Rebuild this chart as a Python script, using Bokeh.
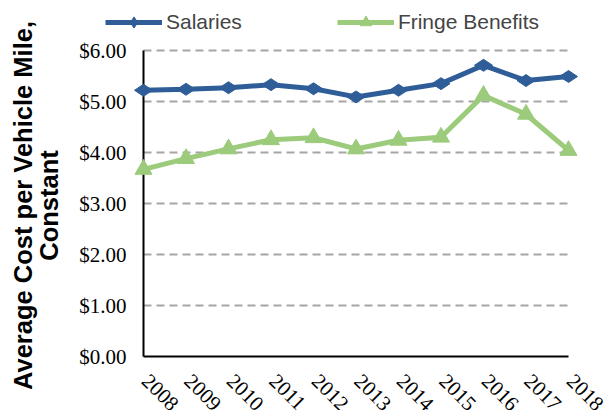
import math
from bokeh.plotting import figure
from bokeh.models import (Range1d, FixedTicker, Legend, LegendItem,
                          LabelSet, ColumnDataSource)
from bokeh.embed import file_html
from bokeh.resources import INLINE

years = [2008, 2009, 2010, 2011, 2012, 2013, 2014, 2015, 2016, 2017, 2018]
salaries = [5.22, 5.24, 5.27, 5.33, 5.25, 5.09, 5.22, 5.35, 5.71, 5.41, 5.49]
fringe = [3.67, 3.88, 4.07, 4.25, 4.29, 4.07, 4.24, 4.30, 5.12, 4.75, 4.04]
y_ticks = [0, 1, 2, 3, 4, 5, 6]
y_tick_labels = ["$0.00", "$1.00", "$2.00", "$3.00", "$4.00", "$5.00", "$6.00"]
year_labels = [str(y) for y in years]

BLUE = "#2E5D98"
GREEN = "#9BCB7B"
FONT = "Liberation Sans"
PX_PER_YEAR = 42.5
PX_PER_DOLLAR = 51.0
XPAD_L = 73 / PX_PER_YEAR
XPAD_R = 47 / PX_PER_YEAR
Y_BELOW = 54 / PX_PER_DOLLAR
Y_ABOVE = 50 / PX_PER_DOLLAR

p = figure(width=615, height=410, output_backend="svg", toolbar_location=None,
           x_range=Range1d(years[0] - XPAD_L, years[-1] + XPAD_R),
           y_range=Range1d(y_ticks[0] - Y_BELOW, y_ticks[-1] + Y_ABOVE),
           min_border_left=70, min_border_right=0, min_border_top=0, min_border_bottom=0)
p.outline_line_color = None
p.background_fill_color = "white"
p.xgrid.grid_line_color = None
p.ygrid.grid_line_color = None
p.xaxis.visible = False

# dashed gridlines spanning the category extent
gl = y_ticks[1:]
p.segment(x0=[years[0]] * len(gl), x1=[years[-1]] * len(gl), y0=gl, y1=gl,
          line_color="#A6A6A6", line_width=2, line_dash="8 5")
# axis lines
p.segment(x0=[years[0], years[0]], x1=[years[0], years[-1]],
          y0=[y_ticks[0], y_ticks[0]], y1=[y_ticks[-1], y_ticks[0]],
          line_color="black", line_width=2)

l1 = p.line(years, salaries, line_color=BLUE, line_width=5)
s1 = p.scatter(years, salaries, marker="diamond", size=18, angle=math.pi / 2,
               fill_color=BLUE, line_color=BLUE)
l2 = p.line(years, fringe, line_color=GREEN, line_width=5)
s2 = p.scatter(years, fringe, marker="triangle", size=17, fill_color=GREEN, line_color=GREEN)

# y axis: only the title lives in the side panel
p.yaxis.ticker = FixedTicker(ticks=[])
p.yaxis.axis_line_color = None
p.yaxis.major_tick_line_color = None
p.yaxis.minor_tick_line_color = None
p.yaxis.major_label_standoff = 0
p.yaxis.axis_label = "Average Cost per Vehicle Mile,\nConstant"
p.yaxis.axis_label_text_font = FONT
p.yaxis.axis_label_text_font_style = "bold"
p.yaxis.axis_label_text_font_size = "25.5px"
p.yaxis.axis_label_text_color = "black"
p.yaxis.axis_label_standoff = 8
p.yaxis.axis_label_text_line_height = 0.9

# y tick labels
ysrc = ColumnDataSource(dict(x=[years[0]] * len(y_ticks), y=y_ticks, label=y_tick_labels))
p.add_layout(LabelSet(x="x", y="y", text="label", source=ysrc, x_offset=-17,
                      text_align="right", text_baseline="middle",
                      text_font=FONT, text_font_size="21px", text_color="black"))

# rotated year labels below the axis
xsrc = ColumnDataSource(dict(x=years, y=[y_ticks[0]] * len(years), label=year_labels))
p.add_layout(LabelSet(x="x", y="y", text="label", source=xsrc, y_offset=-16, x_offset=7,
                      angle=-math.pi / 4, text_align="left", text_baseline="top",
                      text_font=FONT, text_font_size="21px", text_color="black"))

legend = Legend(items=[LegendItem(label="Salaries", renderers=[l1, s1]),
                       LegendItem(label="Fringe Benefits", renderers=[l2, s2])],
                orientation="horizontal", location=(35, 374),
                label_text_font=FONT, label_text_font_size="21px",
                glyph_width=57, glyph_height=28, label_standoff=4, spacing=95,
                padding=2, margin=0, border_line_color=None, background_fill_alpha=0)
p.add_layout(legend, "center")

open("out.html", "w").write(file_html(p, INLINE))
